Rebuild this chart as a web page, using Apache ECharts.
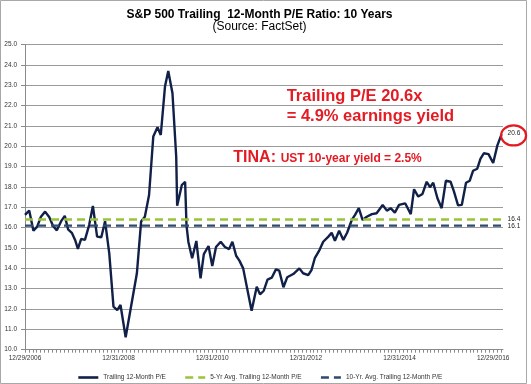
<!DOCTYPE html>
<html>
<head>
<meta charset="utf-8">
<script src="https://cdn.jsdelivr.net/npm/echarts@6/dist/echarts.min.js"></script>
<style>
html,body{margin:0;padding:0;background:#fff;}
#chart{width:531px;height:384px;}
</style>
</head>
<body>
<div id="chart"></div>
<script>
// ---- data ----
const periods = [
  2007.00,2007.09,2007.18,2007.26,2007.34,2007.43,2007.52,2007.60,2007.68,2007.78,
  2007.85,2007.92,2008.00,2008.07,2008.13,2008.20,2008.28,2008.37,2008.45,2008.54,
  2008.63,2008.71,2008.80,2008.89,2008.97,2009.04,2009.15,2009.24,2009.39,2009.48,
  2009.56,2009.65,2009.74,2009.83,2009.90,2009.99,2010.06,2010.15,2010.23,2010.25,
  2010.35,2010.42,2010.45,2010.49,2010.57,2010.66,2010.75,2010.82,2010.92,2011.00,
  2011.08,2011.18,2011.27,2011.36,2011.43,2011.51,2011.58,2011.66,2011.84,2011.95,
  2012.02,2012.10,2012.18,2012.27,2012.36,2012.43,2012.52,2012.60,2012.73,2012.86,
  2012.94,2013.05,2013.12,2013.19,2013.29,2013.37,2013.48,2013.55,2013.62,2013.71,
  2013.80,2013.88,2013.98,2014.05,2014.13,2014.21,2014.30,2014.41,2014.51,2014.64,
  2014.73,2014.81,2014.90,2014.99,2015.12,2015.24,2015.31,2015.40,2015.49,2015.58,
  2015.65,2015.72,2015.81,2015.90,2015.99,2016.09,2016.16,2016.25,2016.33,2016.42,
  2016.50,2016.57,2016.66,2016.73,2016.80,2016.90,2017.00,2017.09,2017.18
];
const peValues = [
  16.63,16.84,15.85,16.05,16.54,16.79,16.51,16.08,15.87,16.35,
  16.58,15.92,15.75,15.40,14.96,15.45,15.40,16.13,17.07,15.56,
  15.53,16.32,14.74,12.12,11.95,12.20,10.61,11.79,13.76,16.30,
  16.54,17.61,20.48,20.94,20.56,22.94,23.71,22.61,19.49,17.08,
  18.10,18.26,16.10,15.30,14.50,15.35,13.51,14.70,15.10,14.12,
  15.05,15.31,15.05,14.95,15.31,14.62,14.38,14.00,11.92,13.10,
  12.72,12.90,13.45,13.54,13.95,13.89,13.07,13.56,13.72,14.00,
  13.76,13.67,13.92,14.50,14.90,15.31,15.56,15.75,15.36,15.85,
  15.40,15.75,16.38,16.63,16.96,16.38,16.54,16.67,16.71,17.12,
  16.84,16.96,16.74,17.12,17.20,16.67,17.89,17.53,17.66,18.26,
  17.99,18.21,17.45,16.96,18.31,18.26,17.80,17.10,17.12,18.21,
  18.31,18.80,18.90,19.40,19.66,19.62,19.18,20.05,20.6
];
const avg5 = 16.4;
const avg10 = 16.1;
const seriesNames = ['Trailing 12-Month P/E','5-Yr Avg. Trailing 12-Month P/E','10-Yr. Avg. Trailing 12-Month P/E'];
const xLabelYears = [2007, 2009, 2011, 2013, 2015, 2017];
const xLabelTexts = ['12/29/2006','12/31/2008','12/31/2010','12/31/2012','12/31/2014','12/29/2016'];
const yMin = 10, yMax = 25, yStep = 1;
const xMin = 2007, xMax = 2017.21;

// ---- build ----
const FONT = "'Liberation Sans', Arial, sans-serif";
const RED = '#e31b23';
const last = periods.length - 1;
const peData = periods.map((p, i) => [p, peValues[i]]);
const avgData = (v) => [[periods[0], v], [periods[last], v]];
const endLbl = (dy) => ({ show: true, distance: 6, offset: [0, dy], fontSize: 6.5, color: '#222', fontFamily: FONT,
  formatter: (d) => Number(d.value[1]).toFixed(1) });

const monthTicks = [];
for (let k = 0; k <= 122; k++) monthTicks.push(xMin + k / 12);

const chart = echarts.init(document.getElementById('chart'), null, { renderer: 'canvas' });
const option = {
  animation: false,
  backgroundColor: '#fff',
  textStyle: { fontFamily: FONT },
  grid: { left: 25, right: 28, top: 44.7, bottom: 34.3, containLabel: false },
  xAxis: {
    type: 'value', min: xMin, max: xMax,
    axisLine: { show: true, lineStyle: { color: '#8a8a8a', width: 1 } },
    axisTick: { show: true, customValues: monthTicks, length: 3, lineStyle: { color: '#8a8a8a' } },
    axisLabel: { show: true, customValues: xLabelYears, margin: 5, fontSize: 6.5, color: '#333', fontFamily: FONT,
      formatter: (v) => { let best = 0; xLabelYears.forEach((y, i) => { if (Math.abs(y - v) < Math.abs(xLabelYears[best] - v)) best = i; }); return xLabelTexts[best]; } },
    splitLine: { show: false }
  },
  yAxis: {
    type: 'value', min: yMin, max: yMax, interval: yStep,
    axisLine: { show: true, lineStyle: { color: '#8a8a8a', width: 1 } },
    axisTick: { show: true, length: 4, lineStyle: { color: '#8a8a8a' } },
    axisLabel: { margin: 8, fontSize: 6.5, color: '#333', fontFamily: FONT, formatter: (v) => v.toFixed(1) },
    splitLine: { show: true, lineStyle: { color: '#9a9a9a', width: 1 } }
  },
  legend: {
    left: 72, top: 369, itemWidth: 20, itemHeight: 8, itemGap: 18,
    itemStyle: { opacity: 0 },
    lineStyle: { width: 2.6 },
    textStyle: { fontSize: 6.5, color: '#333', fontFamily: FONT },
    data: seriesNames
  },
  series: [
    { name: seriesNames[0], type: 'line', data: peData, symbol: 'none', showSymbol: false,
      lineStyle: { color: '#112048', width: 2.4 }, itemStyle: { color: '#112048' }, z: 2,
      endLabel: endLbl(-1) },
    { name: seriesNames[1], type: 'line', data: avgData(avg5), symbol: 'none', showSymbol: false,
      lineStyle: { color: '#99c43a', width: 2.4, type: [8, 5] }, itemStyle: { color: '#99c43a' }, z: 3,
      endLabel: endLbl(0) },
    { name: seriesNames[2], type: 'line', data: avgData(avg10), symbol: 'none', showSymbol: false,
      lineStyle: { color: '#2e4a72', width: 2.4, type: [8, 5] }, itemStyle: { color: '#2e4a72' }, z: 3,
      endLabel: endLbl(1) }
  ],
  graphic: [
    { type: 'rect', shape: { x: 0.5, y: 0.5, width: 526, height: 383 }, style: { fill: 'none', stroke: '#a8a8a8', lineWidth: 1 }, silent: true, z: -1 },
    { type: 'text', x: 259.5, y: 14.5, style: { text: 'S&P 500 Trailing  12-Month P/E Ratio: 10 Years', font: "bold 12px " + FONT, fill: '#000', textAlign: 'center', textVerticalAlign: 'middle' } },
    { type: 'text', x: 259.5, y: 27, style: { text: '(Source: FactSet)', font: "12px " + FONT, fill: '#000', textAlign: 'center', textVerticalAlign: 'middle' } },
    { type: 'text', x: 286.7, y: 96.7, style: { text: 'Trailing P/E 20.6x', font: "bold 16.5px " + FONT, fill: RED, textAlign: 'left', textVerticalAlign: 'middle' } },
    { type: 'text', x: 286.7, y: 116.3, style: { text: '= 4.9% earnings yield', font: "bold 16.5px " + FONT, fill: RED, textAlign: 'left', textVerticalAlign: 'middle' } },
    { type: 'text', x: 233.3, y: 157.3, style: { text: 'TINA:', font: "bold 16px " + FONT, fill: RED, textAlign: 'left', textVerticalAlign: 'middle' } },
    { type: 'text', x: 280.7, y: 158.3, style: { text: 'UST 10-year yield = 2.5%', font: "bold 12px " + FONT, fill: RED, textAlign: 'left', textVerticalAlign: 'middle' } }
  ]
};
chart.setOption(option);

// red ellipse around the last-point label, positioned from the data point
const pt = chart.convertToPixel({ gridIndex: 0 }, [periods[last], peValues[last]]);
chart.setOption({
  graphic: option.graphic.concat([
    { type: 'ellipse', shape: { cx: pt[0] + 12, cy: pt[1] + 1.3, rx: 12.5, ry: 10 },
      style: { fill: 'none', stroke: RED, lineWidth: 2.2 }, z: 10 }
  ])
});
</script>
</body>
</html>
